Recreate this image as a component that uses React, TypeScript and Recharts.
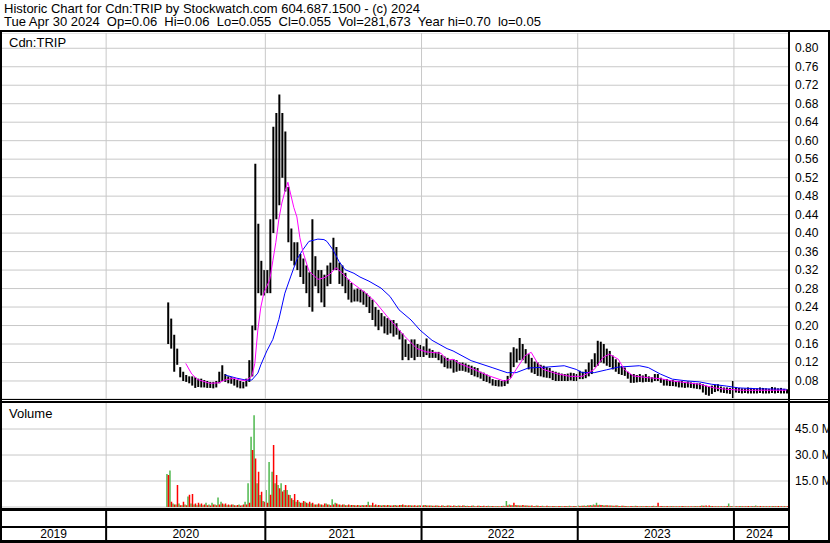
// Cdn:TRIP historic chart (Stockwatch style)
// weekly high/low bars with two moving averages, volume panel underneath

import { ComposedChart, Bar, Line, XAxis, YAxis, CartesianGrid, ReferenceLine } from 'recharts';

const FONT = 'Arial, "Liberation Sans", sans-serif';
const GRID = '#c8c8c8';

// x axis: one category per week, week 0 = 2019-04-29, last = 2024-05-06
const WEEKS = 262;
const FIRST_TRADE_WEEK = 55;
const yearStartWeeks = [35, 88, 140, 192, 244];
const yearLabels: [number, string][] = [
  [17, '2019'], [61, '2020'], [113, '2021'], [166, '2022'], [218, '2023'], [252, '2024'],
];

// weekly high / low, from FIRST_TRADE_WEEK on
const priceHigh = [
  0.25, 0.215, 0.18, 0.15, 0.11, 0.10, 0.093, 0.09, 0.09, 0.088,
  0.085, 0.085, 0.082, 0.08, 0.078, 0.078, 0.08, 0.10, 0.114, 0.095,
  0.09, 0.088, 0.085, 0.082, 0.08, 0.078, 0.085, 0.125, 0.20, 0.55,
  0.42, 0.34, 0.32, 0.32, 0.43, 0.63, 0.66, 0.70, 0.66, 0.62,
  0.50, 0.41, 0.38, 0.38, 0.355, 0.345, 0.33, 0.315, 0.43, 0.35,
  0.32, 0.32, 0.31, 0.33, 0.336, 0.39, 0.37, 0.336, 0.33, 0.314,
  0.30, 0.292, 0.278, 0.28, 0.278, 0.275, 0.27, 0.263, 0.256, 0.24,
  0.234, 0.227, 0.22, 0.216, 0.212, 0.212, 0.205, 0.19, 0.183, 0.17,
  0.16, 0.17, 0.17, 0.16, 0.158, 0.155, 0.172, 0.15, 0.147, 0.143,
  0.143, 0.136, 0.133, 0.13, 0.125, 0.127, 0.125, 0.12, 0.12, 0.118,
  0.115, 0.113, 0.11, 0.108, 0.10, 0.098, 0.094, 0.09, 0.084, 0.082,
  0.082, 0.08, 0.082, 0.091, 0.142, 0.153, 0.15, 0.173, 0.16, 0.149,
  0.138, 0.13, 0.122, 0.12, 0.115, 0.113, 0.11, 0.108, 0.102, 0.10,
  0.098, 0.096, 0.095, 0.096, 0.098, 0.097, 0.095, 0.102, 0.10, 0.105,
  0.12, 0.127, 0.14, 0.167, 0.165, 0.16, 0.15, 0.145, 0.135, 0.127,
  0.12, 0.112, 0.109, 0.10, 0.095, 0.095, 0.093, 0.095, 0.092, 0.095,
  0.09, 0.088, 0.095, 0.095, 0.087, 0.084, 0.084, 0.082, 0.082, 0.08,
  0.08, 0.08, 0.078, 0.079, 0.077, 0.076, 0.075, 0.075, 0.073, 0.07,
  0.068, 0.07, 0.072, 0.073, 0.068, 0.066, 0.066, 0.065, 0.08, 0.067,
  0.065, 0.064, 0.064, 0.066, 0.065, 0.064, 0.064, 0.066, 0.065, 0.064,
  0.063, 0.067, 0.066, 0.064, 0.065, 0.063, 0.062,
];

const priceLow = [
  0.16, 0.15, 0.10, 0.115, 0.088, 0.08, 0.078, 0.075, 0.07, 0.065,
  0.067, 0.066, 0.066, 0.065, 0.065, 0.064, 0.066, 0.075, 0.08, 0.078,
  0.075, 0.074, 0.07, 0.066, 0.064, 0.064, 0.068, 0.078, 0.09, 0.19,
  0.27, 0.265, 0.265, 0.27, 0.27, 0.40, 0.43, 0.46, 0.52, 0.49,
  0.38, 0.34, 0.33, 0.32, 0.305, 0.29, 0.27, 0.24, 0.23, 0.285,
  0.27, 0.25, 0.24, 0.285, 0.29, 0.32, 0.32, 0.29, 0.285, 0.27,
  0.256, 0.25, 0.252, 0.252, 0.25, 0.245, 0.24, 0.227, 0.212, 0.198,
  0.19, 0.198, 0.183, 0.18, 0.183, 0.176, 0.18, 0.17, 0.125, 0.132,
  0.125, 0.13, 0.125, 0.132, 0.132, 0.132, 0.136, 0.13, 0.13, 0.13,
  0.125, 0.118, 0.11, 0.107, 0.107, 0.098, 0.10, 0.102, 0.102, 0.10,
  0.098, 0.093, 0.09, 0.088, 0.085, 0.08, 0.078, 0.075, 0.07, 0.069,
  0.068, 0.068, 0.069, 0.074, 0.087, 0.11, 0.12, 0.125, 0.125, 0.118,
  0.105, 0.098, 0.095, 0.091, 0.09, 0.088, 0.087, 0.086, 0.082, 0.08,
  0.08, 0.08, 0.08, 0.08, 0.081, 0.08, 0.08, 0.084, 0.084, 0.086,
  0.09, 0.095, 0.11, 0.113, 0.12, 0.118, 0.113, 0.11, 0.105, 0.10,
  0.095, 0.093, 0.091, 0.085, 0.076, 0.076, 0.077, 0.078, 0.077, 0.078,
  0.078, 0.077, 0.08, 0.08, 0.076, 0.07, 0.07, 0.069, 0.069, 0.068,
  0.066, 0.066, 0.065, 0.066, 0.065, 0.064, 0.063, 0.062, 0.055, 0.05,
  0.048, 0.052, 0.056, 0.058, 0.055, 0.054, 0.053, 0.052, 0.043, 0.055,
  0.054, 0.053, 0.054, 0.053, 0.053, 0.053, 0.053, 0.054, 0.053, 0.053,
  0.053, 0.054, 0.053, 0.054, 0.053, 0.053, 0.053,
];

// volume in millions: up days (green) and down days (red)
const volUp = [
  19, 21, 2, 1.5, 2, 1, 1.5, 6, 2, 1.5,
  1, 1.5, 1, 2.5, 1.5, 2.5, 1.5, 5.5, 3, 1.5,
  1, 1, 1.5, 0.8, 1.5, 1, 3, 13.7, 40.6, 53,
  13.7, 6.9, 3.5, 9.8, 26, 20.4, 13.7, 12.7, 13.7, 9.8,
  9.8, 6.9, 4, 3, 3, 2.5, 3, 2, 2, 1.5,
  1.5, 1.5, 1, 2, 1.5, 4.5, 2.5, 1.5, 1, 1.5,
  1, 1, 1.2, 0.8, 1, 1.2, 1, 3, 1, 1,
  0.8, 1, 1.2, 0.8, 1, 0.9, 1.1, 0.8, 1.2, 1,
  0.8, 1, 0.9, 0.7, 1, 0.8, 1.2, 0.9, 0.8, 0.7,
  0.8, 0.6, 0.9, 0.7, 0.8, 0.6, 0.7, 0.9, 0.6, 0.8,
  0.7, 0.6, 0.8, 0.5, 0.7, 0.6, 0.5, 0.7, 0.6, 0.5,
  0.6, 0.5, 0.7, 3.5, 1.5, 1, 1.2, 1, 0.8, 0.9,
  0.8, 0.7, 0.6, 0.8, 0.6, 0.7, 0.5, 0.6, 0.5, 0.6,
  0.5, 0.6, 0.5, 0.6, 0.7, 0.5, 0.6, 0.8, 0.7, 0.9,
  1, 1.2, 1.5, 2.5, 1.3, 1.2, 1, 0.9, 0.8, 0.7,
  0.8, 0.6, 0.7, 0.6, 0.5, 0.6, 0.7, 0.5, 0.6, 0.5,
  0.6, 0.5, 0.7, 0.6, 0.5, 0.6, 0.5, 0.4, 0.6, 0.5,
  0.4, 0.5, 0.6, 0.4, 0.5, 0.4, 0.6, 0.5, 0.8, 0.7,
  0.5, 0.6, 0.5, 0.4, 0.5, 0.4, 0.5, 2, 0.6, 0.5,
  0.4, 0.6, 0.5, 0.4, 0.5, 0.6, 0.8, 0.4, 0.5, 0.4,
  0.5, 0.4, 0.6, 0.5, 0.4, 0.5, 0.4,
];

const volDown = [
  18.5, 3, 1.5, 12.7, 1, 3, 1, 7, 7.5, 2,
  2.5, 2, 1.5, 1, 0.8, 1.5, 1, 1.5, 2, 2,
  1.5, 1.5, 1, 1.2, 0.8, 1.5, 1.5, 2.5, 32.9, 28,
  20.4, 8.8, 3, 2.5, 7, 35.8, 18.5, 10.8, 9, 12.7,
  7, 5, 7.5, 4, 2.5, 3.5, 2.5, 3, 2.5, 1.5,
  2, 1.5, 2, 1.5, 1, 1.5, 2, 1.5, 1.5, 1,
  1.5, 1.2, 1, 1.2, 0.9, 1, 1.1, 1, 2.5, 1.5,
  1.2, 0.9, 1, 1.1, 0.8, 1, 0.9, 1.2, 1.5, 1,
  1, 0.8, 1, 0.9, 0.8, 1, 0.9, 0.8, 0.7, 0.8,
  0.7, 0.8, 0.6, 0.8, 0.7, 0.8, 0.6, 0.7, 0.8, 0.6,
  0.6, 0.7, 0.5, 0.7, 0.6, 0.7, 0.6, 0.5, 0.6, 0.5,
  0.5, 0.6, 0.5, 0.8, 1, 2.5, 1, 0.9, 1.1, 0.8,
  0.7, 0.8, 0.6, 0.7, 0.6, 0.5, 0.7, 0.5, 0.6, 0.5,
  0.6, 0.5, 0.6, 0.5, 0.5, 0.6, 0.5, 0.6, 0.7, 0.6,
  0.8, 0.9, 1, 1, 1.1, 0.9, 1, 0.8, 0.7, 0.8,
  0.6, 0.7, 0.6, 0.5, 0.6, 0.5, 0.6, 0.5, 0.5, 0.6,
  0.5, 0.6, 0.5, 2.5, 0.6, 0.5, 0.6, 0.5, 0.5, 0.4,
  0.5, 0.6, 0.4, 0.5, 0.4, 0.5, 0.4, 0.6, 0.7, 0.9,
  0.8, 0.6, 0.5, 0.5, 0.4, 0.5, 0.6, 0.5, 0.5, 0.4,
  0.5, 0.4, 0.5, 0.6, 0.4, 0.5, 0.4, 0.6, 0.5, 0.5,
  0.4, 0.5, 0.4, 0.6, 0.5, 0.4, 0.5,
];

// moving averages: [week, value]
const maFast: [number, number][] = [
  [61, 0.118], [63, 0.095], [65, 0.083], [69, 0.075], [72, 0.076], [74, 0.082], [77, 0.086],
  [79, 0.082], [81, 0.081], [83, 0.09], [84, 0.118], [85, 0.19], [86, 0.24], [87, 0.27],
  [89, 0.30], [90, 0.34], [91, 0.38], [92, 0.43], [93, 0.465], [94, 0.49], [95, 0.51],
  [97, 0.455], [98, 0.435], [99, 0.39], [100, 0.36], [102, 0.318], [105, 0.30], [107, 0.303],
  [109, 0.311], [111, 0.325], [113, 0.314], [116, 0.294], [121, 0.27], [124, 0.252],
  [128, 0.22], [131, 0.198], [134, 0.176], [138, 0.15], [141, 0.143], [146, 0.14],
  [148, 0.125], [150, 0.127], [152, 0.118], [154, 0.113], [158, 0.102], [162, 0.091],
  [167, 0.08], [169, 0.084], [171, 0.105], [174, 0.135], [176, 0.142], [178, 0.12],
  [180, 0.105], [185, 0.095], [189, 0.09], [193, 0.09], [197, 0.105], [200, 0.131],
  [202, 0.138], [205, 0.127], [207, 0.105], [210, 0.091], [215, 0.087], [219, 0.085],
  [223, 0.08], [228, 0.076], [232, 0.073], [237, 0.065], [241, 0.062], [246, 0.06], [261, 0.06],
];

const maSlow: [number, number][] = [
  [74, 0.093], [78, 0.086], [81, 0.082], [83, 0.082], [85, 0.097], [86, 0.115], [88, 0.145],
  [90, 0.17], [92, 0.213], [94, 0.27], [96, 0.307], [98, 0.343], [100, 0.364], [102, 0.382],
  [105, 0.387], [107, 0.386], [108, 0.382], [110, 0.364], [112, 0.339], [114, 0.321],
  [117, 0.313], [119, 0.305], [122, 0.296], [126, 0.281], [129, 0.263], [132, 0.234],
  [136, 0.212], [139, 0.19], [143, 0.168], [148, 0.15], [150, 0.145], [156, 0.124],
  [163, 0.109], [168, 0.098], [171, 0.098], [175, 0.108], [181, 0.11], [187, 0.113],
  [191, 0.105], [193, 0.098], [197, 0.098], [201, 0.104], [205, 0.11], [212, 0.113],
  [215, 0.109], [219, 0.095], [223, 0.084], [228, 0.08], [232, 0.078], [236, 0.073],
  [241, 0.069], [245, 0.065], [252, 0.063], [261, 0.062],
];

const priceTicks = [
  0.08, 0.12, 0.16, 0.20, 0.24, 0.28, 0.32, 0.36, 0.40, 0.44,
  0.48, 0.52, 0.56, 0.60, 0.64, 0.68, 0.72, 0.76, 0.80,
];
const volumeTicks = [15, 30, 45];

const fastByWeek = new Map(maFast);
const slowByWeek = new Map(maSlow);
const labelByWeek = new Map(yearLabels);

const rows = Array.from({ length: WEEKS }, (_, week) => {
  const k = week - FIRST_TRADE_WEEK;
  const traded = k >= 0 && k < priceHigh.length;
  return {
    week,
    hl: traded ? [priceLow[k], priceHigh[k]] : undefined,
    up: traded ? volUp[k] : undefined,
    down: traded ? volDown[k] : undefined,
    fast: fastByWeek.get(week),
    slow: slowByWeek.get(week),
  };
});

// right-hand axis labels, drawn as plain text so they never wrap
function SideTick(props: any) {
  const { x, y, payload, format } = props;
  return (
    <text x={x - 1} y={y} dy={4} textAnchor="start" fontSize={12} fontFamily={FONT} fill="#000">
      {format(payload.value)}
    </text>
  );
}

function YearTick(props: any) {
  const { x, payload } = props;
  const label = labelByWeek.get(payload.value);
  if (label) {
    return (
      <text x={x} y={136} textAnchor="middle" fontSize={12} fontFamily={FONT} fill="#000">
        {label}
      </text>
    );
  }
  const half = payload.offset ?? 1.5;
  return <rect x={x - half - 1} y={108} width={2} height={31} fill="#000" />;
}

function Rule({ left, top, width, height }: { left: number; top: number; width: number; height: number }) {
  return <div style={{ position: 'absolute', left, top, width, height, background: '#000' }} />;
}

const priceFmt = (v: number) => v.toFixed(2);
const volFmt = (v: number) => `${v.toFixed(1)} M`;

export default function App() {
  return (
    <div style={{ position: 'absolute', left: 0, top: 0, width: 830, height: 543, background: '#fff', overflow: 'hidden', fontFamily: FONT }}>
      <div style={{ position: 'absolute', left: 4, top: 2, fontSize: 13, lineHeight: '13px', whiteSpace: 'pre' }}>
        Historic Chart for Cdn:TRIP by Stockwatch.com 604.687.1500 - (c) 2024
      </div>
      <div style={{ position: 'absolute', left: 4, top: 15, fontSize: 13, lineHeight: '13px', whiteSpace: 'pre' }}>
        {'Tue Apr 30 2024  Op=0.06  Hi=0.06  Lo=0.055  Cl=0.055  Vol=281,673  Year hi=0.70  lo=0.05'}
      </div>

      <div style={{ position: 'absolute', left: 0, top: 33 }}>
        <ComposedChart width={830} height={366} data={rows} margin={{ top: 0, right: 0, bottom: 0, left: 1 }} barCategoryGap={0} barGap={0}>
          <CartesianGrid vertical={false} stroke={GRID} />
          <XAxis dataKey="week" type="category" hide />
          <YAxis
            orientation="right"
            width={42}
            type="number"
            domain={[0.041, 0.833]}
            allowDataOverflow
            ticks={priceTicks}
            interval={0}
            tick={(p: any) => <SideTick {...p} format={priceFmt} />}
            axisLine={false}
            tickLine={false}
          />
          {yearStartWeeks.map((w) => (
            <ReferenceLine key={w} x={w} position="start" stroke={GRID} />
          ))}
          <Bar dataKey="hl" fill="#000" barSize={2} isAnimationActive={false} />
          <Line dataKey="slow" stroke="#0000ff" strokeWidth={1} dot={false} connectNulls isAnimationActive={false} />
          <Line dataKey="fast" stroke="#ff00ff" strokeWidth={1} dot={false} connectNulls isAnimationActive={false} />
        </ComposedChart>
      </div>

      <div style={{ position: 'absolute', left: 0, top: 402 }}>
        <ComposedChart width={830} height={139} data={rows} margin={{ top: 0, right: 0, bottom: 0, left: 1 }} barCategoryGap={0} barGap={0}>
          <CartesianGrid vertical={false} stroke={GRID} />
          <XAxis
            dataKey="week"
            type="category"
            height={34}
            ticks={[...yearStartWeeks, ...yearLabels.map(([w]) => w)]}
            interval={0}
            tick={(p: any) => <YearTick {...p} />}
            axisLine={false}
            tickLine={false}
          />
          <YAxis
            orientation="right"
            width={42}
            type="number"
            domain={[0, 60.6]}
            allowDataOverflow
            ticks={volumeTicks}
            interval={0}
            tick={(p: any) => <SideTick {...p} format={volFmt} />}
            axisLine={false}
            tickLine={false}
          />
          {yearStartWeeks.map((w) => (
            <ReferenceLine key={w} x={w} position="start" stroke={GRID} />
          ))}
          <Bar dataKey="up" fill="#4db84d" barSize={1.5} isAnimationActive={false} />
          <Bar dataKey="down" fill="#ff0000" barSize={1.5} isAnimationActive={false} />
        </ComposedChart>
      </div>

      <div style={{ position: 'absolute', left: 9, top: 36, fontSize: 13, lineHeight: '13px' }}>Cdn:TRIP</div>
      <div style={{ position: 'absolute', left: 9, top: 407, fontSize: 13, lineHeight: '13px' }}>Volume</div>

      {/* frame */}
      <Rule left={0} top={30} width={830} height={2} />
      <Rule left={0} top={30} width={2} height={513} />
      <Rule left={828} top={30} width={2} height={513} />
      <Rule left={788} top={30} width={2} height={511} />
      <Rule left={0} top={399} width={830} height={1} />
      <Rule left={0} top={401} width={830} height={2} />
      <Rule left={0} top={508} width={790} height={3} />
      <Rule left={0} top={526} width={790} height={2} />
      <Rule left={0} top={540} width={830} height={3} />
    </div>
  );
}
